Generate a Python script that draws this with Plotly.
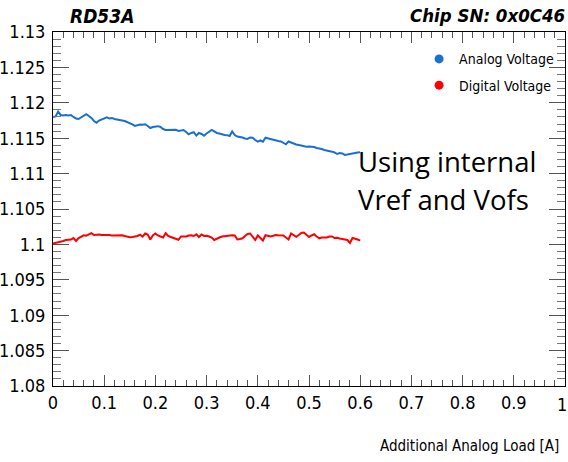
import plotly.graph_objects as go

# Additional analog load [A], 0 .. 0.6 in 0.005 steps
load = [round(i * 0.005, 3) for i in range(121)]

analog_voltage = [
    1.11800, 1.11807, 1.11875, 1.11828, 1.11821, 1.11828, 1.11821, 1.11828, 1.11800, 1.11778,
    1.11771, 1.11793, 1.11807, 1.11838, 1.11814, 1.11786, 1.11743, 1.11719, 1.11750, 1.11764,
    1.11778, 1.11795, 1.11778, 1.11786, 1.11771, 1.11767, 1.11757, 1.11750, 1.11743, 1.11729,
    1.11715, 1.11694, 1.11673, 1.11680, 1.11694, 1.11690, 1.11697, 1.11673, 1.11644, 1.11658,
    1.11663, 1.11670, 1.11658, 1.11630, 1.11616, 1.11616, 1.11613, 1.11616, 1.11619, 1.11602,
    1.11609, 1.11616, 1.11588, 1.11555, 1.11574, 1.11584, 1.11538, 1.11574, 1.11560, 1.11536,
    1.11567, 1.11592, 1.11616, 1.11595, 1.11574, 1.11567, 1.11553, 1.11545, 1.11543, 1.11531,
    1.11595, 1.11545, 1.11524, 1.11522, 1.11510, 1.11496, 1.11489, 1.11510, 1.11507, 1.11475,
    1.11451, 1.11468, 1.11451, 1.11507, 1.11496, 1.11489, 1.11482, 1.11468, 1.11461, 1.11454,
    1.11432, 1.11414, 1.11454, 1.11440, 1.11418, 1.11411, 1.11404, 1.11397, 1.11383, 1.11380,
    1.11383, 1.11380, 1.11376, 1.11362, 1.11358, 1.11348, 1.11334, 1.11329, 1.11319, 1.11310,
    1.11298, 1.11277, 1.11291, 1.11284, 1.11263, 1.11270, 1.11287, 1.11294, 1.11301, 1.11298,
    1.11301,
]

digital_voltage = [
    1.10013, 1.10020, 1.10027, 1.10034, 1.10048, 1.10062, 1.10065, 1.10069, 1.10090, 1.10048,
    1.10090, 1.10109, 1.10129, 1.10123, 1.10140, 1.10158, 1.10133, 1.10137, 1.10140, 1.10133,
    1.10136, 1.10130, 1.10133, 1.10126, 1.10129, 1.10126, 1.10133, 1.10130, 1.10119, 1.10112,
    1.10100, 1.10105, 1.10112, 1.10119, 1.10137, 1.10109, 1.10154, 1.10140, 1.10069, 1.10126,
    1.10154, 1.10126, 1.10112, 1.10097, 1.10158, 1.10119, 1.10105, 1.10090, 1.10079, 1.10065,
    1.10112, 1.10108, 1.10112, 1.10126, 1.10130, 1.10119, 1.10143, 1.10105, 1.10140, 1.10119,
    1.10123, 1.10112, 1.10097, 1.10062, 1.10083, 1.10097, 1.10112, 1.10119, 1.10126, 1.10133,
    1.10130, 1.10126, 1.10069, 1.10076, 1.10086, 1.10119, 1.10147, 1.10154, 1.10112, 1.10062,
    1.10126, 1.10083, 1.10055, 1.10130, 1.10122, 1.10112, 1.10122, 1.10133, 1.10130, 1.10129,
    1.10126, 1.10097, 1.10069, 1.10154, 1.10133, 1.10108, 1.10133, 1.10161, 1.10168, 1.10133,
    1.10105, 1.10126, 1.10143, 1.10112, 1.10086, 1.10097, 1.10094, 1.10097, 1.10112, 1.10112,
    1.10090, 1.10093, 1.10083, 1.10080, 1.10069, 1.10062, 1.10020, 1.10090, 1.10083, 1.10069,
    1.10052,
]

x_tick_values = [0, 0.1, 0.2, 0.3, 0.4, 0.5, 0.6, 0.7, 0.8, 0.9, 1.0]
x_tick_labels = ["0", "0.1", "0.2", "0.3", "0.4", "0.5", "0.6", "0.7", "0.8", "0.9", "1"]

series_names = ["Analog Voltage", "Digital Voltage"]
series_colors = ["#1a6fd2", "#ff0000"]

FONT = "DejaVu Sans Condensed, Liberation Sans, Arial, sans-serif"

fig = go.Figure()
for name, vals, col in zip(series_names, [analog_voltage, digital_voltage], series_colors):
    fig.add_trace(go.Scatter(x=load, y=vals, mode="lines", line=dict(color=col, width=2),
                             showlegend=False, hoverinfo="skip"))
for i, (name, col) in enumerate(zip(series_names, series_colors)):
    fig.add_trace(go.Scatter(x=[None], y=[None], mode="markers", name=name,
                             marker=dict(color=col, size=9), legendgroup=str(i)))

axis_common = dict(
    showline=True, linecolor="black", linewidth=1, mirror="allticks",
    ticks="inside", tickcolor="#555555", tickwidth=1,
    showgrid=False, zeroline=False, automargin=False, ticklabeloverflow="allow",
    tickfont=dict(family=FONT, size=18, color="black"),
)

# the last label sits at the very edge of the canvas: draw it as an annotation nudged inward
axis_labels = x_tick_labels[:-1] + [""]

fig.update_xaxes(range=[0, 1], tickmode="array", tickvals=x_tick_values, ticktext=axis_labels,
                 ticklen=11,
                 minor=dict(tickmode="linear", tick0=0, dtick=0.02, ticks="inside", ticklen=6,
                            tickcolor="#555555", showgrid=False),
                 **axis_common)
fig.update_yaxes(range=[1.08, 1.13], dtick=0.005, tick0=1.08, ticklen=16,
                 minor=dict(dtick=0.001, ticks="inside", ticklen=8, tickcolor="#777777", showgrid=False),
                 tickformat="~g", ticklabelstandoff=3, **axis_common)

fig.update_layout(
    width=568, height=462,
    margin=dict(l=53, r=3, t=32, b=76),
    paper_bgcolor="white", plot_bgcolor="white",
    font=dict(family=FONT, color="black"),
    legend=dict(x=0.715, y=0.968, xanchor="left", yanchor="top",
                bgcolor="rgba(0,0,0,0)", font=dict(family=FONT, size=14, color="black"),
                tracegroupgap=5, traceorder="grouped"),
    annotations=[
        dict(text=x_tick_labels[-1], xref="x", yref="paper", x=x_tick_values[-1], y=-0.051,
             xanchor="center", yanchor="middle", xshift=-3, showarrow=False,
             font=dict(family=FONT, size=18, color="black")),
        dict(text="<b><i>RD53A</i></b>", xref="paper", yref="paper", x=0.03, y=1.046,
             xanchor="left", yanchor="middle", showarrow=False,
             font=dict(family=FONT, size=19, color="black")),
        dict(text="<b><i>Chip SN: 0x0C46</i></b>", xref="paper", yref="paper", x=1.003, y=1.046,
             xanchor="right", yanchor="middle", showarrow=False,
             font=dict(family=FONT, size=18.5, color="black")),
        dict(text="Additional Analog Load [A]", xref="paper", yref="paper", x=0.992, y=-0.169,
             xanchor="right", yanchor="middle", showarrow=False,
             font=dict(family=FONT, size=15, color="black")),
        dict(text="Using internal", xref="paper", yref="paper", x=0.592, y=(386 - 162) / 354,
             xanchor="left", yanchor="middle", showarrow=False,
             font=dict(family="Open Sans", size=27.5, color="black")),
        dict(text="Vref and Vofs", xref="paper", yref="paper", x=0.592, y=(386 - 199) / 354,
             xanchor="left", yanchor="middle", showarrow=False,
             font=dict(family="Open Sans", size=27.5, color="black")),
    ],
)

fig.write_html("out.html")
